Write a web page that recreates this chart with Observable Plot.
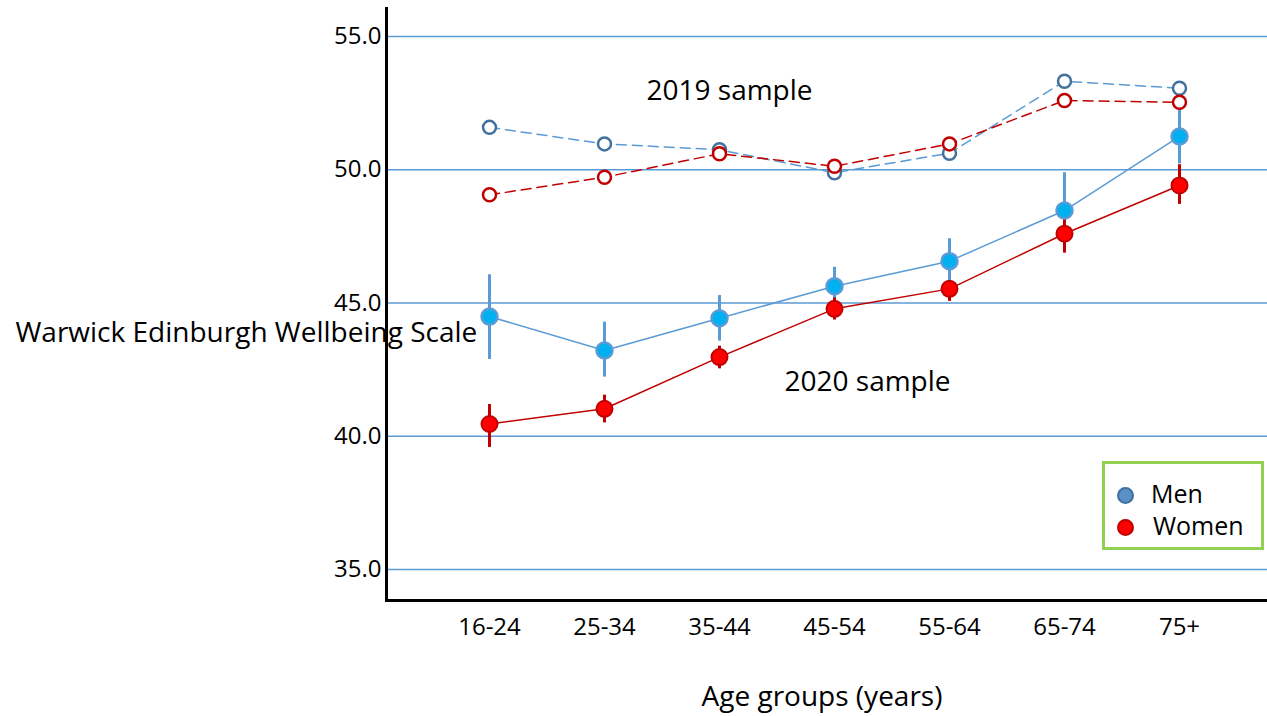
<!DOCTYPE html>
<html>
<head>
<meta charset="utf-8">
<script src="https://cdn.jsdelivr.net/npm/d3@7"></script>
<script src="https://cdn.jsdelivr.net/npm/@observablehq/plot@0.6"></script>
<style>
  html, body { margin: 0; padding: 0; background: #fff; }
  #wrap { position: relative; width: 1267px; height: 716px; font-family: "Open Sans", sans-serif; }
  #legend { position: absolute; left: 1102px; top: 461px; width: 156px; height: 83px; border: 3px solid #92d050; background: #fff; }
  .lg { position: absolute; left: 0; font-size: 25px; color: #000; line-height: 1; }
</style>
</head>
<body>
<div id="wrap"></div>
<script>
const ages = ["16-24", "25-34", "35-44", "45-54", "55-64", "65-74", "75+"];
const men2019 = [51.59, 50.97, 50.75, 49.89, 50.62, 53.32, 53.06];
const women2019 = [49.06, 49.72, 50.60, 50.13, 50.97, 52.60, 52.53];
const men2020 = [44.49, 43.22, 44.43, 45.63, 46.57, 48.47, 51.25];
const men2020Low = [42.88, 42.22, 43.57, 44.95, 45.73, 47.05, 50.22];
const men2020High = [46.06, 44.28, 45.28, 46.34, 47.41, 49.89, 52.25];
const women2020 = [40.46, 41.03, 42.97, 44.78, 45.53, 47.60, 49.41];
const women2020Low = [39.58, 40.50, 42.53, 44.36, 45.06, 46.87, 48.70];
const women2020High = [41.19, 41.54, 43.38, 45.19, 45.84, 48.22, 50.19];
const yTicks = [35, 40, 45, 50, 55];

const rows = (vals, lo, hi) => ages.map((a, i) => ({age: a, v: vals[i], lo: lo ? lo[i] : null, hi: hi ? hi[i] : null}));
const m19 = rows(men2019), w19 = rows(women2019);
const m20 = rows(men2020, men2020Low, men2020High);
const w20 = rows(women2020, women2020Low, women2020High);

const blue = "#5b9bd5", darkBlue = "#41719c", cyan = "#00b0f0", red = "#ff0000", darkRed = "#c00000";
const font = "Open Sans";

const chart = Plot.plot({
  width: 1267,
  height: 716,
  marginLeft: 386,
  marginRight: 0,
  marginTop: 8,
  marginBottom: 116,
  style: {fontFamily: font, background: "#fff", overflow: "visible"},
  x: {type: "point", domain: ages, range: [488, 1180], padding: 0, axis: null},
  y: {domain: [33.837, 56.05], axis: null},
  marks: [
    Plot.ruleY(yTicks, {stroke: blue, strokeWidth: 1.5}),
    Plot.text(yTicks, {frameAnchor: "left", y: d => d, text: d => d.toFixed(1), dx: -5, textAnchor: "end", fontSize: 24, fill: "#000", lineAnchor: "middle"}),
    Plot.text(ages, {x: d => d, frameAnchor: "bottom", dy: 27, fontSize: 24, fill: "#000", lineAnchor: "middle"}),
    Plot.text(["Age groups (years)"], {frameAnchor: "bottom", dx: -5, dy: 97, fontSize: 28, fill: "#000", lineAnchor: "middle"}),
    Plot.text(["Warwick Edinburgh Wellbeing Scale"], {frameAnchor: "left", textAnchor: "start", dx: -371, y: () => 43.89, fontSize: 28, fill: "#000", lineAnchor: "middle"}),
    Plot.text(["2019 sample"], {x: () => "35-44", y: () => 52.94, dx: 10, fontSize: 28, fill: "#000", lineAnchor: "middle"}),
    Plot.text(["2020 sample"], {x: () => "45-54", y: () => 42.02, dx: 33, fontSize: 28, fill: "#000", lineAnchor: "middle"}),
    Plot.frame({anchor: "left", stroke: "#000", strokeWidth: 3}),
    Plot.frame({anchor: "bottom", stroke: "#000", strokeWidth: 3}),
    Plot.line(m20, {x: "age", y: "v", stroke: blue, strokeWidth: 1.5}),
    Plot.line(w20, {x: "age", y: "v", stroke: darkRed, strokeWidth: 1.5}),
    Plot.ruleX(m20, {x: "age", y1: "lo", y2: "hi", stroke: blue, strokeWidth: 3}),
    Plot.ruleX(w20, {x: "age", y1: "lo", y2: "hi", stroke: darkRed, strokeWidth: 3}),
    Plot.dot(m20, {x: "age", y: "v", r: 8, fill: cyan, stroke: blue, strokeWidth: 2.5}),
    Plot.dot(w20, {x: "age", y: "v", r: 8, fill: red, stroke: darkRed, strokeWidth: 2}),
    Plot.line(m19, {x: "age", y: "v", stroke: blue, strokeWidth: 1.5, strokeDasharray: "10,6"}),
    Plot.line(w19, {x: "age", y: "v", stroke: darkRed, strokeWidth: 1.5, strokeDasharray: "10,6"}),
    Plot.dot(m19, {x: "age", y: "v", r: 6.5, fill: "#fff", stroke: darkBlue, strokeWidth: 2.5}),
    Plot.dot(w19, {x: "age", y: "v", r: 6.5, fill: "#fff", stroke: darkRed, strokeWidth: 2.5})
  ]
});

const wrap = document.getElementById("wrap");
wrap.appendChild(chart);

const legend = document.createElement("div");
legend.id = "legend";
const items = [
  {label: "Men", fill: "#5b8fc7", stroke: darkBlue, top: 17, left: 46, swLeft: 12},
  {label: "Women", fill: red, stroke: darkRed, top: 49, left: 48, swLeft: 12}
];
for (const it of items) {
  const sw = document.createElement("div");
  sw.style.cssText = `position:absolute;left:${it.swLeft}px;top:${it.top + 6}px;width:13px;height:13px;border-radius:50%;background:${it.fill};border:2px solid ${it.stroke};`;
  legend.appendChild(sw);
  const t = document.createElement("div");
  t.className = "lg";
  t.style.top = it.top + "px";
  t.style.left = it.left + "px";
  t.textContent = it.label;
  legend.appendChild(t);
}
wrap.appendChild(legend);
</script>
</body>
</html>
